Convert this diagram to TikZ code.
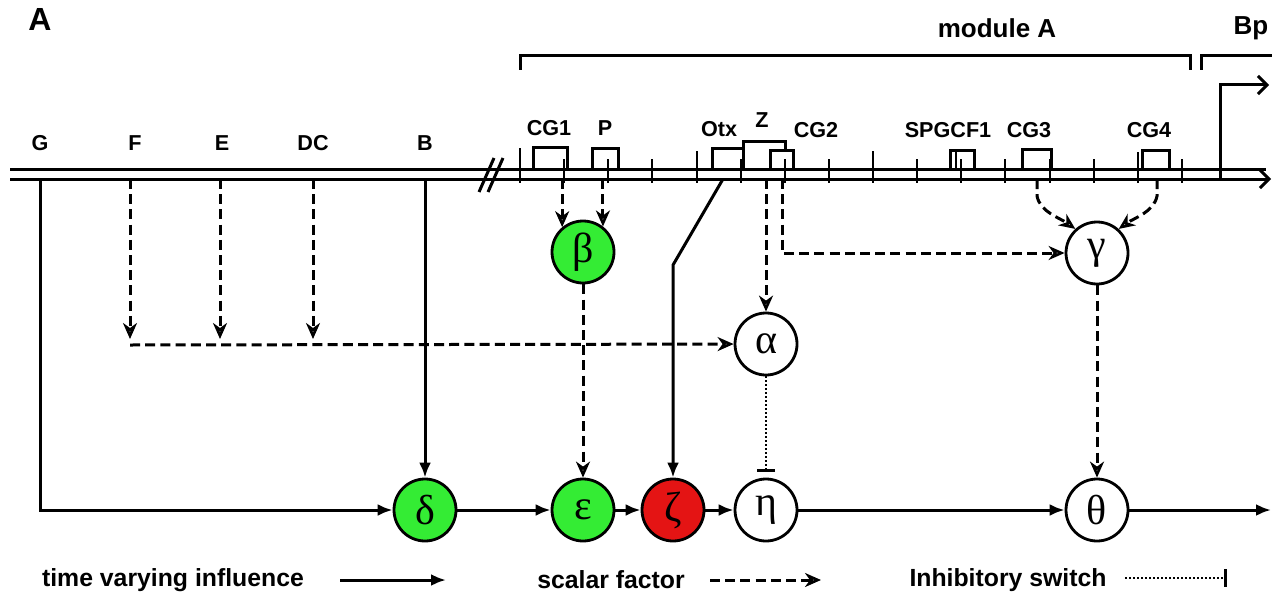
\documentclass[tikz,border=0pt]{standalone}
\usepackage{fontspec}
\setmainfont{Liberation Sans}
\newfontfamily\grk{Liberation Serif}
\usetikzlibrary{arrows.meta,calc}
\definecolor{ngreen}{RGB}{52,236,52}
\definecolor{nred}{RGB}{228,20,20}
\begin{document}
\begin{tikzpicture}[x=0.5pt,y=-0.5pt,
  ln/.style={line width=1.5pt},
  sol/.style={line width=1.5pt,-{Latex[length=7.5pt,width=6pt]}},
  sca/.style={line width=1.5pt,dash pattern=on 5pt off 2.6pt,-{Stealth[open,length=8pt,width=7pt,inset=2.5pt,line width=1.3pt]}},
  inh/.style={line width=1.4pt,dash pattern=on 1pt off 1pt,-{Bar[width=9pt,line width=1.4pt]},shorten >=3pt},
  barb/.style={line width=1.5pt,-{Straight Barb[length=4.5pt,width=9pt]}},
  cnode/.style={circle,draw,line width=1.4pt,minimum size=31pt,inner sep=0pt,font=\grk\fontsize{21}{21}\selectfont},
  glab/.style={font=\bfseries\fontsize{10.8}{12}\selectfont,inner sep=0pt},
  big/.style={font=\bfseries\fontsize{13}{15}\selectfont,inner sep=0pt},
  leg/.style={font=\bfseries\fontsize{12.4}{14}\selectfont,inner sep=0pt},
  tick/.style={line width=1.2pt}]
\useasboundingbox (0,0) rectangle (1272,599);

% panel letter
\node[font=\bfseries\fontsize{16}{18}\selectfont,inner sep=0pt] (panelA) at (40,19) {A};

% module brackets
\node[big] (modA) at (997,28) {module A};
\node[big] (bp) at (1251,28) {Bp};
\draw[ln] (520,70) -- (520,56) -- (1190,56) -- (1190,70);
\draw[ln] (1201,70) -- (1201,56) -- (1272,56);

% DNA double line
\coordinate (dnab) at (0,179);
\draw[ln] (10,169) -- (1266,169);
\coordinate (dnaend) at (1271,179);
\draw[barb] (10,179) -- (dnaend);
% break marks
\draw[ln] (479,192) -- (494,158);
\draw[ln] (488,192) -- (503,158);

% ticks
\foreach \x in {564,608,652,741,785,829,917,961,1005,1050,1094,1182}
  \draw[tick] (\x,159) -- (\x,183);
\draw[tick] (520,148) -- (520,183);
\draw[tick] (697,151) -- (697,183);
\draw[tick] (873,151) -- (873,183);
\draw[tick] (1138,152) -- (1138,183);

% binding-site boxes
\draw[ln] (533,169) -- (533,147) -- (567,147) -- (567,169);
\draw[ln] (592,169) -- (592,148) -- (618,148) -- (618,169);
\draw[ln] (712,169) -- (712,148) -- (743,148) -- (743,169);
\draw[ln] (743,169) -- (743,141) -- (785,141) -- (785,150);
\draw[ln] (770,169) -- (770,150) -- (793,150) -- (793,169);
\draw[ln] (950,169) -- (950,150) -- (974,150) -- (974,169);
\draw[tick] (956,150) -- (956,169);
\draw[ln] (1022,169) -- (1022,149) -- (1051,149) -- (1051,169);
\draw[ln] (1142,169) -- (1142,150) -- (1169,150) -- (1169,169);

% promoter arrow
\coordinate (bpbase) at (1220,179);
\coordinate (bptip) at (1269,85);
\draw[barb] (bpbase) |- (bptip);

% site labels
\node[glab] (lG) at (40,143) {G};
\node[glab] (lF) at (135,143) {F};
\node[glab] (lE) at (222,143) {E};
\node[glab] (lDC) at (313,143) {DC};
\node[glab] (lB) at (425,143) {B};
\node[glab] (lCG1) at (549,128) {CG1};
\node[glab] (lP) at (605,128) {P};
\node[glab] (lOtx) at (719,129) {Otx};
\node[glab] (lZ) at (762,120) {Z};
\node[glab] (lCG2) at (816,130) {CG2};
\node[glab] (lSP) at (948,130) {SPGCF1};
\node[glab] (lCG3) at (1029,130) {CG3};
\node[glab] (lCG4) at (1149,130) {CG4};

% circuit nodes
\node[cnode,fill=ngreen] (beta) at (583,252) {β};
\node[cnode] (gamma) at (1097,253) {γ};
\node[cnode] (alpha) at (766,344) {α};
\node[cnode,fill=ngreen] (delta) at (425,510) {δ};
\node[cnode,fill=ngreen] (eps) at (583,510) {ε};
\node[cnode,fill=nred] (zeta) at (673,510) {ζ};
\node[cnode] (eta) at (766,510) {η};
\node[cnode] (theta) at (1097,510) {θ};

% upstream inputs
\coordinate (g) at (40,179);
\coordinate (b) at (425,179);
\draw[sol] (g) |- (delta);
\draw[sol] (b) -- (delta);
\foreach \x in {130,220,313}{
  \coordinate (s\x) at (\x,179);
  \coordinate (t\x) at (\x,339);
  \draw[sca] (s\x) -- (t\x);
}
\coordinate (hstart) at (130,345);
\draw[sca] (hstart) -- (alpha);

% module A inputs
\draw[sca] (beta.130 |- dnab) -- (beta.130);
\draw[sca] (beta.52 |- dnab) -- (beta.52);
\draw[sca] (alpha.north |- dnab) -- (alpha);
\coordinate (zr) at (782,179);
\draw[sca] (zr) |- (gamma);
\coordinate (otx) at (723,179);
\coordinate (bend) at (673,265);
\draw[sol] (otx) -- (bend) -- (zeta);
\coordinate (cg3) at (1037,179);
\coordinate (cg4) at (1157,179);
\draw[sca] (cg3) -- (1037,196) .. controls (1040,212) and (1060,218) .. (gamma.132);
\draw[sca] (cg4) -- (1157,196) .. controls (1154,212) and (1134,218) .. (gamma.48);

% internal links
\draw[sca] (beta) -- (eps);
\draw[sca] (gamma) -- (theta);
\draw[inh] (alpha) -- (eta);
\draw[sol] (delta) -- (eps);
\draw[sol] (eps) -- (zeta);
\draw[sol] (zeta) -- (eta);
\draw[sol] (eta) -- (theta);
\coordinate (out) at (1271,510);
\draw[sol] (theta) -- (out);

% legend
\node[leg] (l1) at (173,580) {time varying influence};
\coordinate (l1a) at (340,580);
\coordinate (l1b) at (446,580);
\draw[sol] (l1a) -- (l1b);
\node[leg] (l2) at (611,580) {scalar factor};
\coordinate (l2a) at (710,580);
\coordinate (l2b) at (821,580);
\draw[sca] (l2a) -- (l2b);
\node[leg] (l3) at (1008,580) {Inhibitory switch};
\coordinate (l3a) at (1125,578);
\coordinate (l3b) at (1227,578);
\draw[inh,shorten >=0pt] (l3a) -- (l3b);
\end{tikzpicture}
\end{document}
